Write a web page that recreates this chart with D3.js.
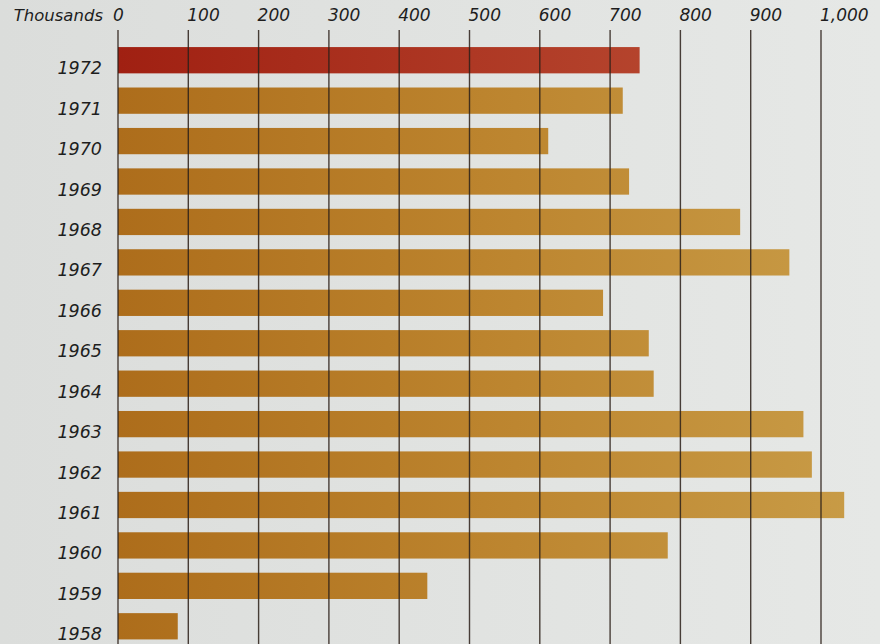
<!DOCTYPE html>
<html>
<head>
<meta charset="utf-8">
<script src="https://cdn.jsdelivr.net/npm/d3@7"></script>
<style>
  body { margin: 0; background: #e1e3e1; }
  svg { display: block; }
  text { font-family: "DejaVu Sans", sans-serif; font-style: italic; fill: #1e1e1e; }
</style>
</head>
<body>
<svg width="880" height="644"></svg>
<script>
// data (thousands)
var years = ["1972", "1971", "1970", "1969", "1968", "1967", "1966", "1965", "1964", "1963", "1962", "1961", "1960", "1959", "1958"];
var values = [742, 718, 612, 727, 885, 955, 690, 755, 762, 975, 987, 1033, 782, 440, 85];
var ticks = [0, 100, 200, 300, 400, 500, 600, 700, 800, 900, 1000];
var unitLabel = "Thousands";

var data = years.map(function(y, i) { return {year: y, value: values[i]}; });

var svg = d3.select("svg"),
    width = +svg.attr("width"),
    height = +svg.attr("height");

var x = d3.scaleLinear().domain([0, 1000]).range([118, 821]);
var y = d3.scaleBand().domain(years).range([40, 646.5])
    .paddingInner(0.35).paddingOuter(0.175);

// background with a faint light falloff
var defs = svg.append("defs");
var bg = defs.append("linearGradient").attr("id", "bg")
    .attr("gradientUnits", "userSpaceOnUse")
    .attr("x1", 0).attr("x2", width).attr("y1", 0).attr("y2", 0);
bg.append("stop").attr("offset", 0).attr("stop-color", "#dbdddb");
bg.append("stop").attr("offset", 1).attr("stop-color", "#e6e8e6");

var gold = defs.append("linearGradient").attr("id", "gold")
    .attr("gradientUnits", "userSpaceOnUse")
    .attr("x1", x(0)).attr("x2", 850).attr("y1", 0).attr("y2", 0);
gold.append("stop").attr("offset", 0).attr("stop-color", "#ad6d1b");
gold.append("stop").attr("offset", 0.5).attr("stop-color", "#bc842e");
gold.append("stop").attr("offset", 1).attr("stop-color", "#c89b46");

var red = defs.append("linearGradient").attr("id", "red")
    .attr("gradientUnits", "userSpaceOnUse")
    .attr("x1", x(0)).attr("x2", 650).attr("y1", 0).attr("y2", 0);
red.append("stop").attr("offset", 0).attr("stop-color", "#a02012");
red.append("stop").attr("offset", 1).attr("stop-color", "#b5442d");

svg.append("rect").attr("width", width).attr("height", height).attr("fill", "url(#bg)");

// bars
svg.selectAll(".bar")
  .data(data)
  .enter().append("rect")
    .attr("class", "bar")
    .attr("x", x(0))
    .attr("y", function(d) { return y(d.year); })
    .attr("width", function(d) { return x(d.value) - x(0); })
    .attr("height", y.bandwidth())
    .attr("fill", function(d) { return d.year === "1972" ? "url(#red)" : "url(#gold)"; });

// gridlines sit over the bars
svg.selectAll(".grid")
  .data(ticks)
  .enter().append("line")
    .attr("class", "grid")
    .attr("x1", function(d) { return x(d); })
    .attr("x2", function(d) { return x(d); })
    .attr("y1", 30)
    .attr("y2", height)
    .attr("stroke", "#2b2019")
    .attr("stroke-opacity", 0.85)
    .attr("stroke-width", 1.4);

// top tick labels
svg.selectAll(".tick-label")
  .data(ticks)
  .enter().append("text")
    .attr("class", "tick-label")
    .attr("x", function(d) { return x(d) + (d === 0 ? -5 : -1); })
    .attr("y", 21)
    .attr("font-size", 17)
    .text(function(d) { return d3.format(",")(d); });

svg.append("text")
    .attr("x", 103)
    .attr("y", 21)
    .attr("text-anchor", "end")
    .attr("font-size", 16.5)
    .text(unitLabel);

// year labels
svg.selectAll(".year")
  .data(data)
  .enter().append("text")
    .attr("class", "year")
    .attr("x", 102)
    .attr("y", function(d) { return y(d.year) + y.bandwidth() / 2 + 14; })
    .attr("text-anchor", "end")
    .attr("font-size", 17.5)
    .text(function(d) { return d.year; });
</script>
</body>
</html>
